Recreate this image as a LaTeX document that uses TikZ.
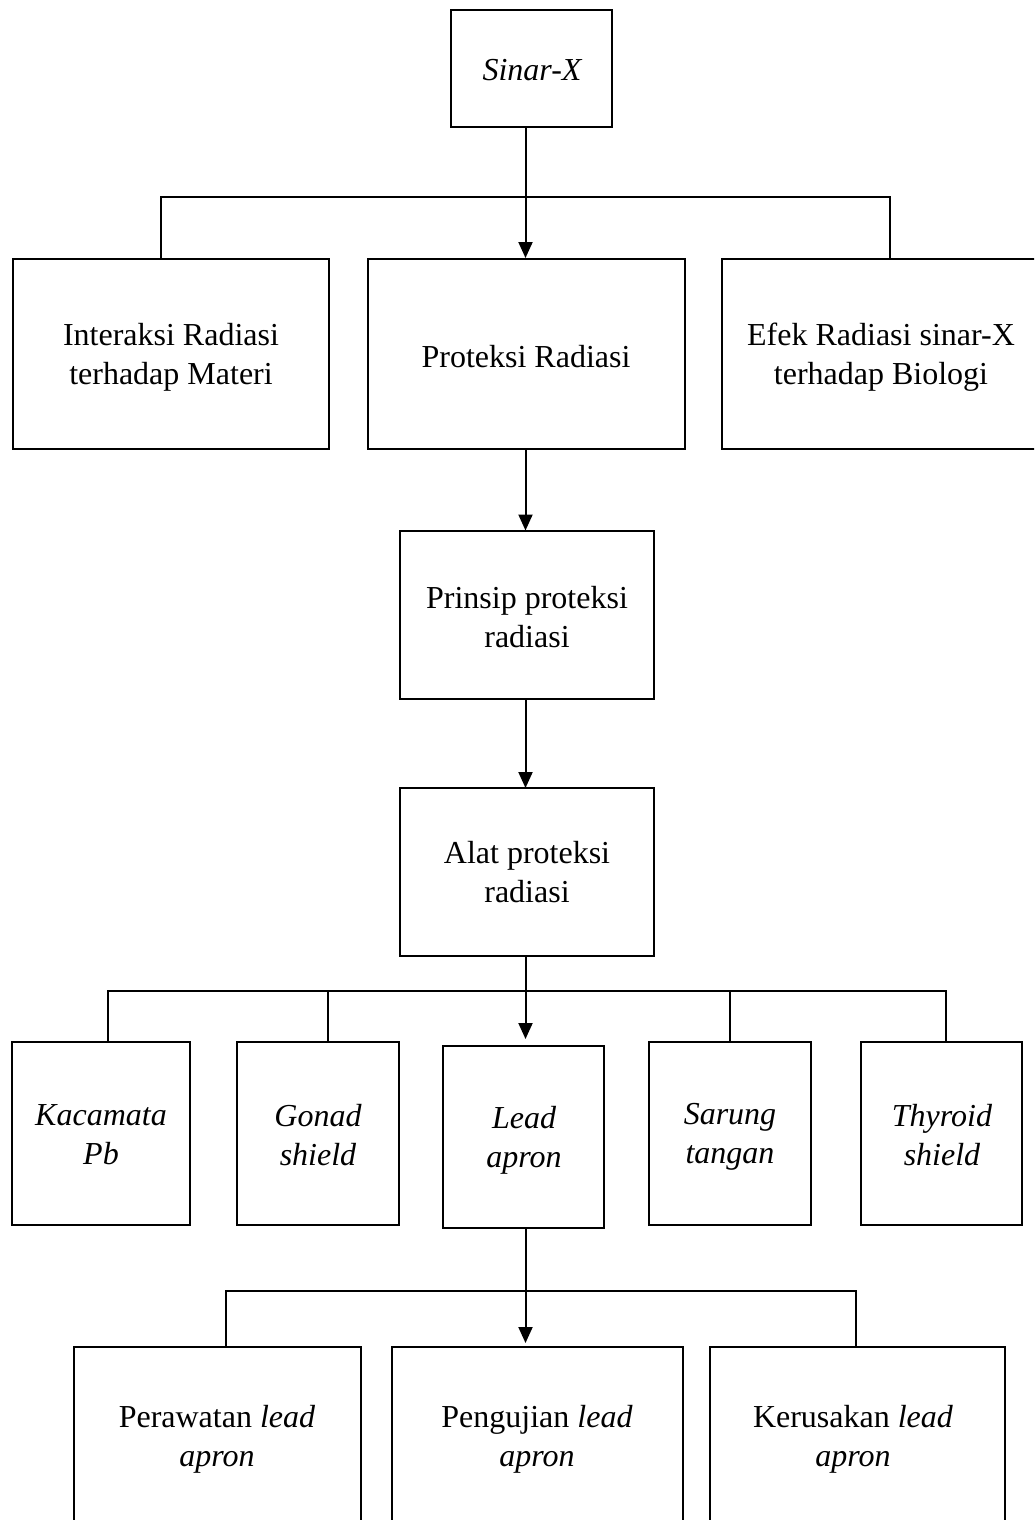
\documentclass[tikz,border=0pt]{standalone}
\usepackage{fontspec}
\setmainfont{Liberation Serif}
\usetikzlibrary{arrows.meta}

\begin{document}
\begin{tikzpicture}[x=0.5pt,y=-0.5pt,
  box/.style={draw, line width=1pt, inner sep=0pt, outer sep=0pt},
  txt/.style={align=center, inner sep=0pt, font=\fontsize{16}{19.5}\selectfont},
  link/.style={line width=1pt},
  arr/.style={line width=1pt, -{Triangle[width=7pt,length=8pt]}}]
\useasboundingbox (0,0) rectangle (1034,1520);
\clip (0,0) rectangle (1034,1520);

% top level
\node[box, minimum width=80.5pt, minimum height=58.5pt] (sinar) at (531.5,68.5) {};
\node[txt] (sinarT) at (532,70) {\itshape Sinar-X};

% second level
\node[box, minimum width=158pt, minimum height=95pt] (interaksi) at (171,354) {};
\node[txt] (interaksiT) at (171,357) {Interaksi Radiasi\\terhadap Materi};
\node[box, minimum width=158.5pt, minimum height=95pt] (proteksi) at (526.5,354) {};
\node[txt] (proteksiT) at (526,357) {Proteksi Radiasi};
\node[box, minimum width=159pt, minimum height=95pt] (efek) at (881,354) {};
\node[txt] (efekT) at (881,357) {Efek Radiasi sinar-X\\terhadap Biologi};

% principle and tools
\node[box, minimum width=127pt, minimum height=84pt] (prinsip) at (527,614.5) {};
\node[txt] (prinsipT) at (527,617) {Prinsip proteksi\\radiasi};
\node[box, minimum width=127pt, minimum height=84pt] (alat) at (527,872) {};
\node[txt] (alatT) at (527,872) {Alat proteksi\\radiasi};

% protective equipment
\node[box, minimum width=89pt, minimum height=91.5pt] (kaca) at (101,1133.5) {};
\node[txt] (kacaT) at (101,1135) {\itshape Kacamata\\\itshape Pb};
\node[box, minimum width=81pt, minimum height=91.5pt] (gonad) at (318,1133.5) {};
\node[txt] (gonadT) at (318,1135) {\itshape Gonad\\\itshape shield};
\node[box, minimum width=80.5pt, minimum height=91pt] (lead) at (523.5,1137) {};
\node[txt] (leadT) at (524,1140) {\itshape Lead\\\itshape apron};
\node[box, minimum width=81pt, minimum height=91.5pt] (sarung) at (730,1133.5) {};
\node[txt] (sarungT) at (730,1137) {\itshape Sarung\\\itshape tangan};
\node[box, minimum width=80.5pt, minimum height=91.5pt] (thyroid) at (941.5,1133.5) {};
\node[txt] (thyroidT) at (942,1135) {\itshape Thyroid\\\itshape shield};

% lead apron topics
\node[box, minimum width=143.5pt, minimum height=97pt] (perawatan) at (217.5,1444) {};
\node[txt] (perawatanT) at (217,1439) {Perawatan \textit{lead}\\\textit{apron}};
\node[box, minimum width=145.5pt, minimum height=97pt] (pengujian) at (537.5,1444) {};
\node[txt] (pengujianT) at (537,1439) {Pengujian \textit{lead}\\\textit{apron}};
\node[box, minimum width=147.5pt, minimum height=97pt] (kerusakan) at (857.5,1444) {};
\node[txt] (kerusakanT) at (853,1439) {Kerusakan \textit{lead}\\\textit{apron}};

% branch points
\coordinate (spine) at (525.5,0);
\coordinate (barA) at (0,197);
\coordinate (barB) at (0,991);
\coordinate (barC) at (0,1291);
\coordinate (a1) at (161,0);
\coordinate (a3) at (890,0);
\coordinate (b1) at (108,0);
\coordinate (b2) at (328,0);
\coordinate (b4) at (730,0);
\coordinate (b5) at (946,0);
\coordinate (c1) at (226,0);
\coordinate (c3) at (856,0);

% Sinar-X to second level
\draw[arr] (spine |- sinar.south) -- ([yshift=0.5pt]spine |- proteksi.north);
\draw[link] (a1 |- interaksi.north) -- (a1 |- barA) -- (a3 |- barA) -- (a3 |- efek.north);

% chain down the middle
\draw[arr] (spine |- proteksi.south) -- (spine |- prinsip.north);
\draw[arr] (spine |- prinsip.south) -- (spine |- alat.north);

% tools row
\draw[arr] (spine |- alat.south) -- ([yshift=3.5pt]spine |- lead.north);
\draw[link] (b1 |- kaca.north) -- (b1 |- barB) -- (b5 |- barB) -- (b5 |- thyroid.north);
\draw[link] (b2 |- barB) -- (b2 |- gonad.north);
\draw[link] (b4 |- barB) -- (b4 |- sarung.north);

% lead apron row
\draw[arr] (spine |- lead.south) -- ([yshift=2pt]spine |- pengujian.north);
\draw[link] (c1 |- perawatan.north) -- (c1 |- barC) -- (c3 |- barC) -- (c3 |- kerusakan.north);
\end{tikzpicture}
\end{document}
